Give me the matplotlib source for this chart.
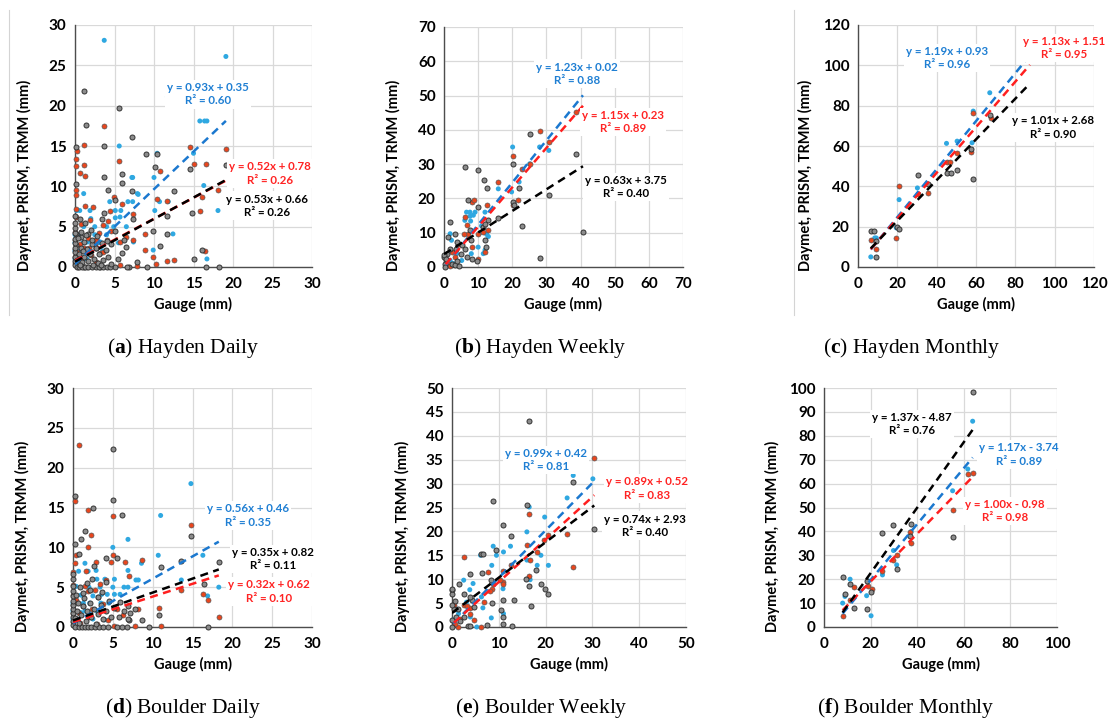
import matplotlib.pyplot as plt
from matplotlib.lines import Line2D

plt.rcParams['font.family'] = ['Lato', 'DejaVu Sans']
plt.rcParams['mathtext.fontset'] = 'custom'
plt.rcParams['mathtext.rm'] = 'Liberation Serif'
plt.rcParams['mathtext.bf'] = 'Liberation Serif:bold'

# ── Data (gauge mm, gridded product mm) ──────────────────────────────────────
# colour = series: blue, red, grey markers

# (a) Hayden daily
a_blue = [(3.7, 28.1), (19.1, 26.1), (11.7, 21.1), (15.8, 18.1), (16.4, 18.1), (16.7, 18.1),
          (5.6, 15.0), (15.0, 14.1), (10.4, 14.1), (10.0, 11.1), (7.3, 11.1), (7.2, 11.1), (1.1, 9.1),
          (7.9, 9.1), (8.0, 9.0), (4.4, 8.1), (6.7, 8.1), (7.3, 8.1), (10.7, 8.1), (11.8, 8.1),
          (16.3, 10.1), (18.1, 7.0), (0.6, 7.0), (0.2, 7.0), (1.9, 7.0), (5.1, 7.0), (5.8, 7.0),
          (10.1, 7.0), (5.7, 6.2), (5.1, 6.1), (1.1, 5.0), (2.5, 5.0), (4.0, 5.0), (4.9, 5.0),
          (6.5, 5.0), (12.4, 4.1), (1.6, 3.1), (3.2, 3.1), (7.4, 3.1), (9.9, 2.1), (3.6, 1.9),
          (0.6, 3.9), (0.2, 1.2), (16.7, 1.0), (0.0, 1.0), (0.0, 2.0), (0.0, 3.0), (0.0, 4.0),
          (0.5, 2.0), (1.0, 3.0), (1.5, 1.0), (2.0, 2.0), (2.5, 4.0), (3.0, 3.0), (3.5, 2.0),
          (4.0, 4.0), (4.5, 3.0), (1.0, 1.0), (0.5, 4.0), (2.0, 6.0), (3.0, 4.0), (5.5, 3.0)]
a_red = [(3.7, 17.5), (1.1, 15.1), (0.3, 14.4), (0.1, 13.4), (0.1, 12.5), (1.1, 12.6), (1.3, 11.3),
         (0.6, 11.7), (5.6, 13.2), (14.6, 14.9), (15.0, 12.8), (16.6, 12.8), (19.1, 14.6),
         (10.7, 11.9), (10.4, 8.4), (11.6, 8.2), (18.1, 9.6), (16.1, 8.7), (15.8, 7.0), (4.9, 8.7),
         (6.0, 7.8), (1.3, 7.6), (2.3, 7.5), (0.1, 9.5), (0.1, 8.9), (0.1, 7.2), (0.1, 6.2),
         (7.3, 6.6), (7.3, 3.4), (4.2, 5.7), (4.6, 4.5), (2.7, 3.4), (5.7, 3.1), (6.5, 3.7),
         (8.9, 4.1), (8.9, 2.1), (9.9, 1.3), (10.2, 0.4), (11.6, 0.8), (12.5, 0.9), (7.9, 0.1),
         (16.4, 2.0), (5.7, 0.3), (1.8, 2.3), (3.2, 1.7), (0.0, 0.5), (0.0, 1.2), (0.0, 2.2),
         (0.0, 3.3), (0.0, 4.4), (0.3, 1.8), (0.6, 2.9), (0.9, 1.0), (1.2, 2.4), (1.6, 3.6),
         (2.0, 1.5), (2.5, 2.8), (3.0, 4.2), (0.4, 0.0), (1.5, 0.0), (2.7, 0.6), (3.5, 1.9),
         (4.1, 3.3), (0.8, 5.3), (1.9, 5.8), (4.4, 6.9), (3.6, 5.2)]
a_gray = [(1.1, 21.8), (1.4, 17.6), (5.6, 19.7), (7.2, 16.1), (0.1, 14.9), (3.7, 15.0), (9.0, 14.0),
          (10.4, 14.0), (10.1, 12.4), (14.6, 12.2), (19.1, 12.7), (3.7, 11.2), (5.9, 11.5),
          (5.9, 10.4), (0.1, 10.3), (4.2, 9.6), (7.2, 9.4), (12.5, 9.4), (5.0, 8.3), (3.7, 6.7),
          (3.4, 6.0), (11.7, 6.3), (14.8, 6.7), (9.9, 4.5), (11.7, 4.1), (10.7, 2.6), (0.6, 6.0),
          (1.3, 5.4), (0.1, 2.7), (0.1, 4.1), (0.8, 3.7), (1.6, 4.1), (2.1, 2.9), (2.7, 2.3),
          (4.6, 2.9), (5.0, 4.5), (6.2, 3.3), (6.5, 2.5), (5.5, 1.0), (7.8, 0.6), (15.0, 1.0),
          (16.1, 2.1), (9.1, 0.0), (5.1, 0.0), (6.8, 0.0), (3.2, 0.0), (1.1, 0.0), (16.6, 0.0),
          (18.2, 0.0), (7.4, 6.0), (4.0, 3.2), (0.0, 0.3), (0.0, 0.8), (0.0, 1.3), (0.0, 1.9),
          (0.0, 2.4), (0.0, 3.0), (0.0, 3.5), (0.0, 4.2), (0.0, 4.8), (0.0, 5.5), (0.0, 6.3),
          (0.2, 0.0), (0.5, 0.0), (0.9, 0.0), (1.3, 0.0), (1.7, 0.0), (2.1, 0.0), (2.6, 0.0),
          (3.0, 0.0), (3.6, 0.0), (4.0, 0.0), (4.4, 0.0), (0.3, 0.9), (0.5, 1.6), (0.7, 2.4),
          (0.9, 0.6), (1.1, 1.3), (1.2, 3.1), (1.5, 2.2), (1.7, 0.7), (1.9, 1.6), (2.2, 3.4),
          (2.4, 1.0), (2.6, 2.4), (2.9, 0.5), (3.1, 1.6), (3.4, 3.0), (3.6, 0.9), (3.9, 2.1),
          (4.2, 1.2), (0.4, 3.6), (0.8, 4.4), (1.4, 4.0), (2.0, 4.6), (2.8, 3.9), (1.0, 2.0),
          (0.6, 0.3), (2.3, 0.3), (4.6, 0.4), (3.3, 0.2), (6.0, 1.7), (6.6, 0.0)]

# (b) Hayden weekly
b_blue = [(6.1, 13.6), (6.6, 16.0), (7.6, 16.0), (8.6, 15.1), (7.6, 14.8), (7.8, 13.4), (9.1, 16.0),
          (10.5, 9.9), (10.0, 5.8), (12.0, 16.0), (12.5, 9.5), (13.0, 8.9), (15.9, 22.8),
          (20.1, 35.0), (19.8, 21.9), (22.0, 24.8), (25.1, 30.1), (28.0, 35.0), (30.7, 34.0),
          (40.7, 45.0), (1.8, 1.9), (2.2, 7.8), (4.2, 7.0), (1.8, 9.7), (3.7, 3.9), (2.7, 1.0),
          (5.2, 1.9), (8.0, 3.9), (11.5, 3.9), (12.0, 4.9), (11.0, 12.0), (0.5, 0.5)]
b_red = [(6.1, 14.6), (6.6, 12.3), (8.1, 19.0), (8.8, 19.4), (6.9, 9.7), (8.1, 5.8), (10.0, 2.4),
         (10.0, 9.7), (11.5, 10.2), (12.7, 18.0), (12.0, 4.4), (13.0, 10.9), (15.9, 24.8),
         (20.3, 32.3), (20.1, 18.0), (21.8, 19.6), (22.7, 28.7), (25.1, 30.1), (28.0, 39.8),
         (30.7, 36.4), (38.8, 45.2), (40.7, 42.6), (1.3, 1.0), (2.2, 4.4), (3.2, 2.9), (4.5, 6.8),
         (5.8, 9.7), (1.8, 0.2), (0.5, 2.0)]
b_gray = [(6.1, 29.2), (10.0, 28.2), (11.8, 25.5), (12.7, 23.0), (10.0, 17.5), (7.1, 19.4),
          (1.8, 13.1), (1.3, 8.7), (1.8, 5.3), (3.2, 9.7), (3.9, 7.3), (5.2, 6.3), (6.6, 2.9),
          (8.1, 2.4), (9.7, 1.7), (7.6, 10.7), (7.8, 7.8), (11.5, 11.7), (12.0, 7.8), (13.0, 13.6),
          (12.3, 5.8), (15.9, 14.4), (20.1, 30.1), (20.1, 19.0), (20.5, 18.0), (22.0, 23.1),
          (22.7, 11.9), (25.1, 38.9), (28.0, 2.6), (30.7, 20.9), (38.8, 33.0), (40.7, 10.2),
          (0.3, 1.0), (0.0, 2.9), (0.3, 0.0), (1.0, 3.9), (2.2, 1.0), (3.2, 0.5), (4.5, 0.2),
          (3.9, 1.7), (4.9, 3.9), (6.1, 5.3), (3.5, 5.3), (0.0, 3.6), (0.6, 2.2), (12.0, 12.5)]

# (c) Hayden monthly
c_blue = [(6.5, 5.0), (8.5, 14.4), (9.3, 14.4), (20.9, 33.4), (19.5, 19.4), (30.2, 39.2),
          (45.0, 61.3), (47.2, 46.4), (50.4, 62.4), (58.0, 61.6), (58.6, 77.3), (67.0, 86.4)]
c_red = [(6.5, 13.6), (9.0, 9.1), (19.5, 14.6), (20.9, 40.2), (30.6, 36.1), (35.8, 36.9),
         (45.0, 52.2), (47.0, 52.2), (50.4, 56.3), (57.4, 57.0), (58.6, 76.2), (67.4, 73.7)]
c_gray = [(6.5, 17.7), (8.1, 17.7), (9.0, 12.7), (9.3, 5.0), (19.9, 19.9), (20.9, 18.7),
          (30.6, 45.5), (35.7, 41.2), (45.0, 46.4), (47.4, 46.8), (50.4, 48.3), (57.7, 58.3),
          (58.6, 43.4), (67.0, 75.3)]

# (d) Boulder daily
d_blue = [(14.8, 18.0), (11.0, 14.0), (6.9, 11.0), (5.0, 10.0), (16.3, 9.0), (10.7, 9.0), (8.6, 8.0),
          (0.6, 9.0), (13.6, 5.9), (18.3, 5.0), (16.9, 3.9), (6.9, 7.1), (2.9, 7.1), (1.9, 7.0),
          (0.7, 7.0), (1.5, 8.0), (7.9, 5.9), (8.2, 5.9), (6.4, 5.0), (6.9, 5.0), (5.2, 6.0),
          (5.0, 5.0), (4.3, 4.1), (3.6, 4.1), (2.1, 3.0), (1.3, 3.0), (2.5, 3.9), (5.2, 4.1),
          (5.9, 4.1), (4.0, 0.9), (1.0, 1.8), (0.4, 5.1), (3.4, 5.0), (0.0, 1.0), (0.0, 2.0),
          (0.0, 3.0), (0.5, 1.0), (1.0, 4.0), (1.5, 2.0), (2.0, 5.0), (3.0, 2.0), (3.5, 3.0),
          (4.5, 3.0), (2.5, 1.0), (4.0, 6.0), (3.0, 6.0)]
d_red = [(0.7, 22.9), (0.2, 15.8), (1.9, 14.7), (5.0, 13.9), (14.8, 12.8), (2.2, 11.6), (1.9, 10.1),
         (0.2, 8.0), (0.4, 9.1), (4.8, 8.2), (5.0, 9.0), (2.9, 8.2), (6.5, 8.2), (8.6, 8.4),
         (7.0, 6.4), (3.4, 5.4), (1.6, 7.0), (1.5, 5.1), (1.9, 4.5), (2.7, 4.7), (13.6, 4.7),
         (16.3, 4.1), (16.9, 3.4), (18.3, 1.3), (10.8, 2.4), (11.0, 0.1), (7.8, 0.1), (8.2, 2.3),
         (6.3, 1.5), (5.2, 0.1), (4.4, 0.9), (3.2, 3.8), (0.8, 1.8), (0.0, 0.6), (0.0, 1.7),
         (0.0, 2.8), (0.0, 4.0), (0.0, 5.3), (0.0, 6.9), (0.4, 3.4), (0.9, 0.5), (1.2, 2.6),
         (2.0, 1.2), (2.4, 2.2), (3.0, 0.4), (3.8, 2.9), (4.2, 5.9), (5.5, 2.2)]
d_gray = [(0.2, 16.4), (5.0, 22.3), (5.0, 16.0), (6.1, 14.0), (2.5, 14.9), (1.5, 12.1), (1.0, 11.0),
          (0.2, 10.4), (0.7, 9.2), (4.2, 8.7), (5.5, 8.7), (2.6, 7.6), (14.8, 11.4), (13.6, 8.3),
          (18.3, 8.2), (11.0, 7.5), (16.4, 5.4), (4.2, 5.6), (3.1, 3.8), (2.1, 4.7), (7.8, 2.3),
          (8.6, 0.9), (7.1, 1.8), (7.0, 0.9), (10.8, 1.5), (9.6, 0.0), (16.9, 0.0), (5.5, 0.0),
          (6.9, 2.6), (6.9, 1.0), (5.8, 1.3), (0.0, 0.3), (0.0, 0.8), (0.0, 1.3), (0.0, 1.8),
          (0.0, 2.3), (0.0, 2.8), (0.0, 3.3), (0.0, 3.9), (0.0, 4.5), (0.0, 5.2), (0.0, 6.0),
          (0.0, 6.7), (0.3, 0.0), (0.7, 0.0), (1.1, 0.0), (1.5, 0.0), (1.9, 0.0), (2.3, 0.0),
          (2.8, 0.0), (3.3, 0.0), (3.8, 0.0), (4.4, 0.0), (6.2, 0.0), (6.8, 0.0), (0.3, 1.1),
          (0.5, 2.0), (0.6, 3.0), (0.8, 0.5), (1.0, 1.5), (1.2, 2.6), (1.4, 3.6), (1.6, 0.8),
          (1.8, 2.0), (2.1, 3.0), (2.3, 1.2), (2.6, 2.3), (2.9, 0.4), (3.2, 1.6), (3.5, 2.7),
          (3.8, 1.0), (4.1, 2.0), (4.5, 3.3), (4.8, 1.3), (5.2, 2.4), (0.4, 4.0), (0.9, 5.0),
          (1.3, 4.3), (1.8, 5.5), (2.4, 6.0), (3.6, 4.4), (5.9, 3.1), (6.4, 2.0)]

# (e) Boulder weekly
e_blue = [(30.1, 31.0), (25.9, 31.7), (24.6, 27.0), (19.8, 23.0), (16.5, 25.1), (16.0, 19.9),
          (16.0, 14.0), (16.7, 9.9), (18.2, 12.9), (19.0, 15.0), (20.6, 12.9), (12.5, 16.9),
          (11.0, 15.7), (8.8, 16.9), (9.5, 15.0), (8.5, 12.9), (6.1, 15.0), (4.5, 9.1), (3.8, 7.8),
          (2.5, 9.8), (3.1, 5.2), (0.9, 3.8), (1.4, 2.8), (5.3, 0.0), (6.6, 4.0), (8.4, 1.9),
          (10.9, 8.0), (11.0, 2.8), (6.3, 6.3), (3.9, 2.1), (0.3, 1.5)]
e_red = [(30.4, 35.4), (25.9, 12.6), (24.6, 19.4), (20.6, 19.2), (19.7, 18.3), (18.2, 15.7),
         (16.5, 23.6), (16.7, 14.0), (16.0, 17.1), (16.5, 10.6), (12.7, 12.9), (11.0, 11.7),
         (10.9, 9.4), (10.3, 9.9), (8.8, 8.9), (8.5, 8.0), (7.6, 11.6), (6.8, 5.2), (6.2, 0.0),
         (4.8, 1.4), (3.9, 2.8), (3.8, 4.0), (2.6, 14.6), (2.6, 4.5), (1.8, 1.7), (1.2, 0.0),
         (0.4, 4.7), (0.7, 0.7), (3.2, 4.3), (11.0, 9.0), (8.1, 7.5)]
e_gray = [(16.5, 43.0), (25.9, 30.3), (30.4, 20.4), (16.0, 25.6), (8.7, 26.3), (16.5, 8.6),
          (16.9, 4.3), (19.0, 8.9), (19.8, 8.0), (20.6, 6.8), (18.0, 11.9), (12.5, 19.0),
          (11.0, 21.4), (9.3, 16.2), (6.1, 15.2), (6.7, 15.3), (6.4, 11.2), (3.8, 11.0), (1.6, 8.9),
          (2.6, 7.0), (0.7, 5.4), (0.0, 7.8), (0.1, 6.8), (0.4, 3.8), (0.0, 1.4), (0.0, 0.1),
          (1.2, 3.8), (3.4, 0.3), (7.5, 0.5), (10.9, 0.6), (12.8, 0.3), (11.0, 2.0), (10.5, 3.5),
          (11.0, 5.7), (8.5, 5.0), (8.3, 9.9), (4.8, 4.2), (4.3, 5.6), (3.8, 6.3), (0.9, 2.1),
          (1.8, 1.3), (2.6, 2.0), (3.9, 0.3), (13.2, 5.7), (15.9, 10.1), (0.0, 8.0), (0.0, 4.6)]

# (f) Boulder monthly
f_blue = [(8.0, 10.0), (9.0, 12.8), (11.2, 20.0), (18.3, 13.1), (19.0, 19.3), (20.2, 4.7),
          (25.1, 21.8), (29.8, 32.0), (31.2, 26.0), (37.4, 39.9), (55.2, 57.0), (61.7, 66.1),
          (63.8, 86.1)]
f_red = [(8.0, 4.7), (11.2, 11.1), (12.9, 16.6), (19.0, 17.0), (20.5, 15.9), (25.1, 23.4),
         (29.5, 28.1), (31.2, 30.0), (37.4, 35.0), (37.0, 39.8), (55.2, 49.0), (61.7, 64.0),
         (63.8, 64.3)]
f_gray = [(8.0, 21.1), (9.0, 13.9), (11.2, 17.9), (12.9, 7.9), (18.3, 19.3), (18.3, 7.5),
          (20.3, 14.5), (25.1, 39.2), (29.5, 42.7), (31.2, 24.2), (37.4, 43.1), (37.0, 38.2),
          (55.2, 37.8), (63.8, 98.3)]

# trendline labels: (slope, intercept, r2) for blue, red, grey
a_fits = [(0.93, 0.35, 0.60), (0.52, 0.78, 0.26), (0.53, 0.66, 0.26)]
b_fits = [(1.23, 0.02, 0.88), (1.15, 0.23, 0.89), (0.63, 3.75, 0.40)]
c_fits = [(1.19, 0.93, 0.96), (1.13, 1.51, 0.95), (1.01, 2.68, 0.90)]
d_fits = [(0.56, 0.46, 0.35), (0.32, 0.62, 0.10), (0.35, 0.82, 0.11)]
e_fits = [(0.99, 0.42, 0.81), (0.89, 0.52, 0.83), (0.74, 2.93, 0.40)]
f_fits = [(1.17, -3.74, 0.89), (1.00, -0.98, 0.98), (1.37, -4.87, 0.76)]

captions = ["a", "b", "c", "d", "e", "f"]
caption_text = ["Hayden Daily", "Hayden Weekly", "Hayden Monthly",
                "Boulder Daily", "Boulder Weekly", "Boulder Monthly"]
axis_max = [30, 70, 120, 30, 50, 100]
x_step = [5, 10, 20, 5, 10, 20]
y_step = [5, 10, 20, 5, 5, 10]

# ── Styling / layout (pixel boxes of each plot area) ─────────────────────────
W, H = 1110, 722
BOXES = [(75, 25, 312, 267), (444, 27, 683, 267), (858, 25, 1094, 267),
         (73, 388, 312, 627), (452, 388, 686, 627), (824, 388, 1057, 627)]
# equation label centres (data coords) for blue, red, grey
LABEL_POS = [[(16.8, 21.4), (24.7, 11.6), (24.3, 7.6)],
             [(39.0, 56.4), (52.4, 42.3), (53.3, 23.3)],
             [(45.2, 103.6), (104.7, 108.6), (99.0, 69.2)],
             [(22.0, 14.0), (24.6, 4.45), (25.1, 8.5)],
             [(20.1, 35.0), (41.7, 29.0), (41.2, 21.2)],
             [(83.7, 72.2), (77.7, 48.5), (37.8, 85.0)]]
FORECAST = [0, 0, 20, 0, 0, 0]
CAPTION_X = [183, 540, 912, 183, 541, 906]
CAPTION_Y = [348, 348, 348, 708, 708, 708]

BLUE_PT, RED_PT, GRAY_PT = "#2FA8E1", "#E8461E", "#8c8c8c"
BLUE_LN, RED_LN = "#1B78CF", "#FF1F1F"
BLUE_TX, RED_TX = "#1F7FD3", "#FF2323"

fig = plt.figure(figsize=(W / 100, H / 100), dpi=100)

# faint chart-area borders from the original spreadsheet charts
for xb in (9, 794):
    fig.add_artist(Line2D([xb / W, xb / W], [1 - 10 / H, 1 - 315 / H],
                          color="#d4d4d4", lw=0.8))

panels = [(a_blue, a_red, a_gray, a_fits), (b_blue, b_red, b_gray, b_fits),
          (c_blue, c_red, c_gray, c_fits), (d_blue, d_red, d_gray, d_fits),
          (e_blue, e_red, e_gray, e_fits), (f_blue, f_red, f_gray, f_fits)]

for i, (blue, red, gray, fits) in enumerate(panels):
    left, top, right, bottom = BOXES[i]
    ax = fig.add_axes([left / W, 1 - bottom / H, (right - left) / W, (bottom - top) / H])
    vmax = axis_max[i]
    ax.set_xlim(0, vmax)
    ax.set_ylim(0, vmax)
    ax.set_xticks(range(0, vmax + 1, x_step[i]))
    ax.set_yticks(range(0, vmax + 1, y_step[i]))
    ax.grid(True, color="#d9d9d9", lw=0.9)
    ax.set_axisbelow(True)
    for s in ("top", "right"):
        ax.spines[s].set_visible(False)
    for s in ("left", "bottom"):
        ax.spines[s].set_color("#4d4d4d")
        ax.spines[s].set_linewidth(1.0)
    ax.tick_params(length=0, labelsize=11)
    ax.tick_params(axis="x", pad=7)
    ax.tick_params(axis="y", pad=6)
    for lab in ax.get_xticklabels() + ax.get_yticklabels():
        lab.set_fontweight("bold")

    series = [(blue, dict(c=BLUE_PT, edgecolors="none")),
              (red, dict(c=RED_PT, edgecolors="#5a5a5a", linewidths=0.5)),
              (gray, dict(c=GRAY_PT, edgecolors="#333333", linewidths=0.7))]
    for pts, kw in series:
        ax.scatter([p[0] for p in pts], [p[1] for p in pts], s=13, zorder=3,
                   clip_on=False, **kw)

    line_cols = [BLUE_LN, RED_LN, "black"]
    text_cols = [BLUE_TX, RED_TX, "black"]
    for (pts, _), (m, b, r2), lc, tc, lp in zip(series, fits, line_cols, text_cols, LABEL_POS[i]):
        xs = [p[0] for p in pts]
        x0, x1 = min(xs), max(xs) + FORECAST[i]
        ax.plot([x0, x1], [m * x0 + b, m * x1 + b], color=lc, lw=1.8,
                ls=(0, (3.2, 2.2)), zorder=4)
        sign = "+" if b >= 0 else "-"
        ax.text(lp[0], lp[1], f"y = {m:.2f}x {sign} {abs(b):.2f}\nR\u00b2 = {r2:.2f}",
                color=tc, fontsize=8.3, fontweight="bold", ha="center", va="center",
                linespacing=1.25, zorder=5, clip_on=False,
                bbox=dict(fc="white", ec="none", pad=1.5))

    ax.set_xlabel("Gauge (mm)", fontsize=10.5, fontweight="bold")
    ax.xaxis.set_label_coords(0.5, -0.125)
    ax.set_ylabel("Daymet, PRISM, TRMM (mm)", fontsize=10.5, fontweight="bold")
    ax.yaxis.set_label_coords(-0.18 if i % 3 != 2 else -0.19, 0.38)

    fig.text(CAPTION_X[i] / W, 1 - CAPTION_Y[i] / H,
             rf"($\mathbf{{{captions[i]}}}$) {caption_text[i]}",
             family="Liberation Serif", fontsize=15.5, ha="center", va="center")

fig.savefig("out.png", dpi=100)
